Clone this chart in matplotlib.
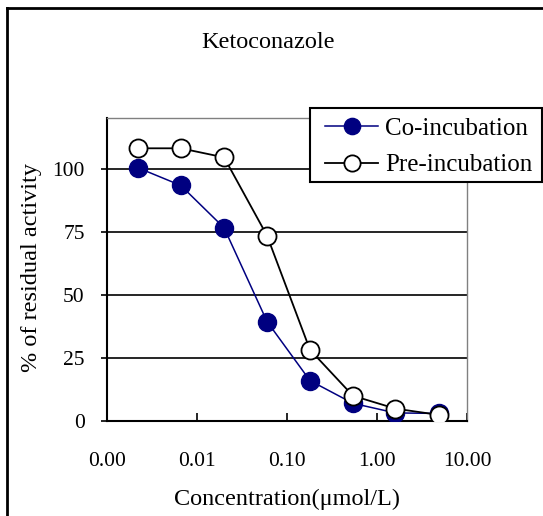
import matplotlib
matplotlib.use("Agg")
import matplotlib.pyplot as plt
from matplotlib.lines import Line2D
from matplotlib.patches import Rectangle
from matplotlib.ticker import FixedLocator, FuncFormatter

plt.rcParams['font.family'] = ['Liberation Serif', 'DejaVu Serif']

# Concentrations (µmol/L) and residual activity (%)
concentration = [0.0022, 0.0066, 0.020, 0.060, 0.18, 0.54, 1.6, 4.9]
co_incubation = [100.3, 93.3, 76.5, 39.4, 16.0, 7.0, 3.2, 3.0]
pre_incubation = [108.0, 108.0, 104.4, 73.4, 28.2, 10.0, 4.9, 2.4]

x_ticks = [0.001, 0.01, 0.1, 1, 10]
y_ticks = [0, 25, 50, 75, 100]

W, H = 543, 516
fig = plt.figure(figsize=(W / 100, H / 100), dpi=100)
ax = fig.add_axes([107 / W, 1 - 421 / H, (467 - 107) / W, (421 - 118) / H])

ax.set_xscale('log')
ax.set_xlim(0.001, 10)
ax.set_ylim(0, 120)

for y in y_ticks[1:]:
    ax.axhline(y, color='black', lw=1.2, zorder=1)

ax.plot(concentration, co_incubation, color='#000080', lw=1.1, marker='o',
        ms=13, mfc='#000080', mec='#000080', zorder=3, label='Co-incubation')
ax.plot(concentration, pre_incubation, color='black', lw=1.3, marker='o',
        ms=13, mfc='white', mec='black', mew=1.3, zorder=4, label='Pre-incubation')

ax.xaxis.set_major_locator(FixedLocator(x_ticks))
ax.xaxis.set_minor_locator(FixedLocator([]))
ax.xaxis.set_major_formatter(FuncFormatter(lambda v, p: f'{v:.2f}'))
ax.set_yticks(y_ticks)

ax.tick_params(axis='x', direction='in', length=6, width=1.2, pad=22, labelsize=15.5)
ax.tick_params(axis='y', direction='out', length=4, width=1.2, pad=12, labelsize=15.5)

for side in ('left', 'bottom'):
    ax.spines[side].set_color('black')
    ax.spines[side].set_linewidth(1.5)
for side in ('top', 'right'):
    ax.spines[side].set_color('#808080')
    ax.spines[side].set_linewidth(1.0)

ax.set_xlabel('Concentration(μmol/L)', fontsize=17.5, labelpad=13)
fig.text(32 / W, 1 - 268 / H, '% of residual activity', rotation=90,
         ha='center', va='center', fontsize=17.5)
fig.text(268 / W, 1 - 42 / H, 'Ketoconazole', ha='center', va='center', fontsize=17.5)

# legend box
box_l, box_r, box_t, box_b = 310, 542, 108, 182
fig.add_artist(Rectangle((box_l / W, 1 - box_b / H), (box_r - box_l) / W,
                         (box_b - box_t) / H, transform=fig.transFigure,
                         facecolor='white', edgecolor='black', lw=1.5, zorder=9))
handles, labels = ax.get_legend_handles_labels()
leg = fig.legend(handles, labels, loc='center',
                 bbox_to_anchor=((box_l + box_r) / 2 / W + 3 / W,
                                 1 - (box_t + box_b) / 2 / H - 2 / H),
                 bbox_transform=fig.transFigure, fontsize=18, frameon=False,
                 handlelength=2.1, handletextpad=0.3, borderpad=0, borderaxespad=0,
                 labelspacing=0.55, markerscale=0.9)
leg.set_zorder(10)

# outer frame around the chart
fig.add_artist(Line2D([7 / W, 7 / W], [-0.1, 1 - 8 / H], color='black', lw=2,
                      transform=fig.transFigure))
fig.add_artist(Line2D([7 / W, 1.1], [1 - 8 / H, 1 - 8 / H], color='black', lw=2,
                      transform=fig.transFigure))

fig.savefig('out.png', dpi=100)
